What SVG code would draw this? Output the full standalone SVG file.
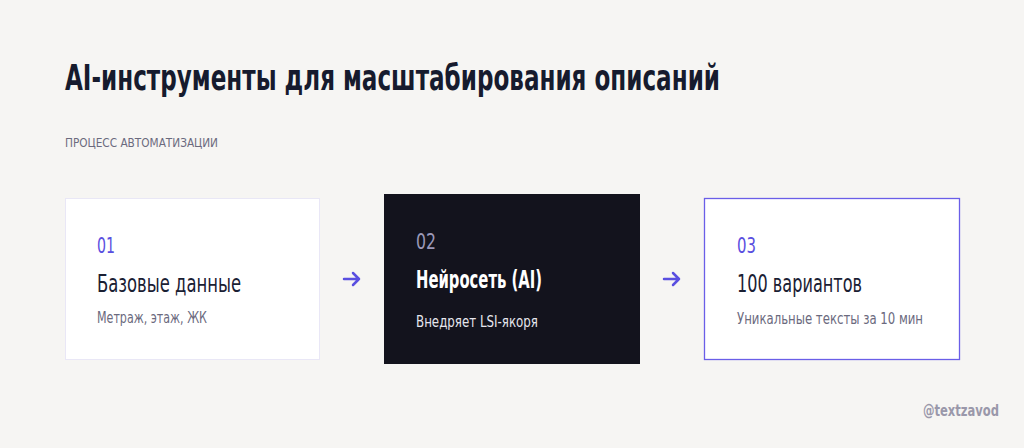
<svg xmlns="http://www.w3.org/2000/svg" width="1024" height="448" viewBox="0 0 1024 448">
<style>
.f{font-family:"DejaVu Sans Condensed","DejaVu Sans","Liberation Sans",sans-serif;font-stretch:condensed}
.title{font-size:36px;font-weight:bold;fill:#161b2e}
.sub{font-size:13px;fill:#6b6a7e}
.num{font-size:21px}
.head{font-size:25px}
.desc{font-size:16px}
.arrow{fill:none;stroke:#5a4fe0;stroke-width:2.5;stroke-linecap:round;stroke-linejoin:round}
</style>
<rect width="1024" height="448" fill="#f6f5f3"/>
<text class="f title" x="65" y="90" textLength="655" lengthAdjust="spacingAndGlyphs">AI-инструменты для масштабирования описаний</text>
<text class="f sub" x="65" y="147" textLength="153" lengthAdjust="spacingAndGlyphs">ПРОЦЕСС АВТОМАТИЗАЦИИ</text>
<g id="node1">
<rect x="65.5" y="198.5" width="254" height="161" fill="#ffffff" stroke="#e9e7f6" stroke-width="1"/>
<text class="f num" x="97" y="253" fill="#5a4fe0" textLength="18" lengthAdjust="spacingAndGlyphs">01</text>
<text class="f head" x="97" y="292" fill="#1a2033" textLength="144" lengthAdjust="spacingAndGlyphs">Базовые данные</text>
<text class="f desc" x="97" y="323" fill="#6b6a7e" textLength="110" lengthAdjust="spacingAndGlyphs">Метраж, этаж, ЖК</text>
</g>
<g id="node2">
<rect x="384" y="194" width="256" height="170" fill="#13131d"/>
<text class="f num" x="416" y="249" fill="#9b98b8" textLength="20" lengthAdjust="spacingAndGlyphs">02</text>
<text class="f head" x="416" y="288" fill="#ffffff" font-weight="bold" textLength="126" lengthAdjust="spacingAndGlyphs">Нейросеть (AI)</text>
<text class="f desc" x="416" y="327" fill="#e6e6ee" textLength="122" lengthAdjust="spacingAndGlyphs">Внедряет LSI-якоря</text>
</g>
<g id="node3">
<rect x="704.5" y="198.5" width="255" height="161" fill="#ffffff" stroke="#6a5ee8" stroke-width="1.3"/>
<text class="f num" x="737" y="253" fill="#5a4fe0" textLength="19" lengthAdjust="spacingAndGlyphs">03</text>
<text class="f head" x="737" y="292" fill="#1a2033" textLength="125" lengthAdjust="spacingAndGlyphs">100 вариантов</text>
<text class="f desc" x="737" y="324" fill="#6b6a7e" textLength="186" lengthAdjust="spacingAndGlyphs">Уникальные тексты за 10 мин</text>
</g>
<g id="connectors">
<path class="arrow" d="M344 279H359M353 273L359 279L353 285"/>
<path class="arrow" d="M664 279H679M673 273L679 279L673 285"/>
</g>
<text class="f" x="923" y="416" font-size="16" font-weight="bold" fill="#9a98aa" textLength="76" lengthAdjust="spacingAndGlyphs">@textzavod</text>
</svg>
